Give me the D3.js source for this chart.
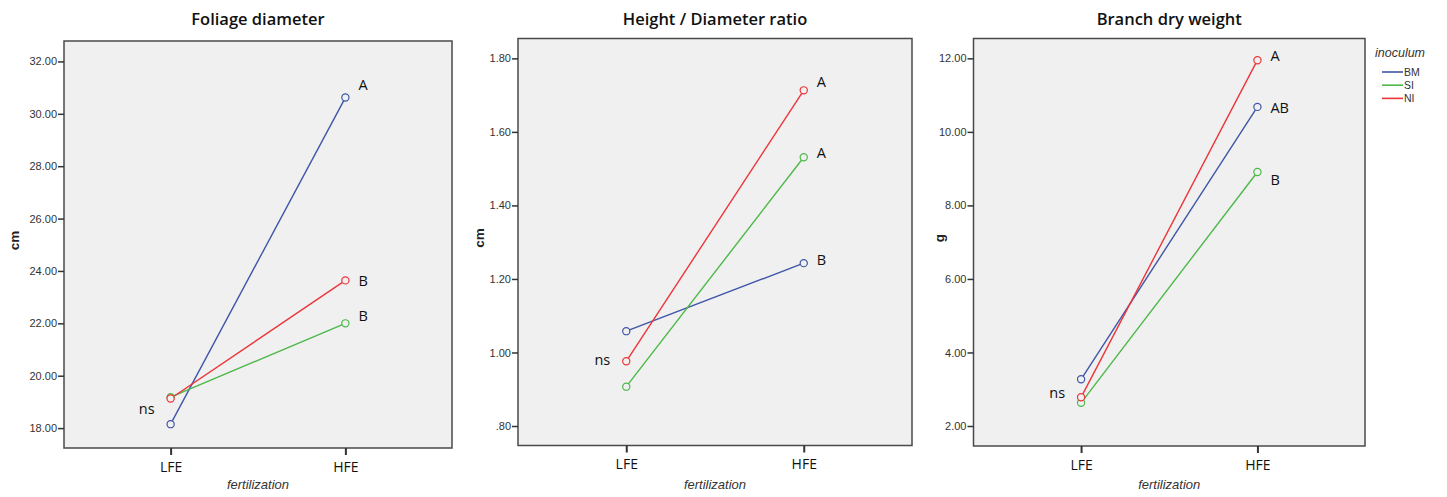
<!DOCTYPE html>
<html><head><meta charset="utf-8">
<script src="https://cdn.jsdelivr.net/npm/d3@7"></script>
<style>
body{margin:0;background:#fff;}
svg{display:block;}
</style></head>
<body>
<svg id="chart" width="1447" height="497"></svg>
<script>
// ---- data ----
const categories = ["LFE", "HFE"];
const seriesNames = ["BM", "SI", "NI"];
const seriesColors = ["#3f55a8", "#4cb849", "#ec3539"];

const foliageBM = [18.15, 30.62];
const foliageSI = [19.18, 22.00];
const foliageNI = [19.13, 23.64];
const foliageTicks = [18, 20, 22, 24, 26, 28, 30, 32];
const foliageLetters = [{t: "A", v: 31.09}, {t: "B", v: 23.64}, {t: "B", v: 22.30}];
const foliageNs = 18.72;

const hdBM = [1.058, 1.243];
const hdSI = [0.907, 1.531];
const hdNI = [0.976, 1.713];
const hdTicks = [0.8, 1.0, 1.2, 1.4, 1.6, 1.8];
const hdLetters = [{t: "A", v: 1.735}, {t: "A", v: 1.542}, {t: "B", v: 1.252}];
const hdNs = 0.979;

const branchBM = [3.27, 10.68];
const branchSI = [2.63, 8.91];
const branchNI = [2.78, 11.95];
const branchTicks = [2, 4, 6, 8, 10, 12];
const branchLetters = [{t: "A", v: 12.06}, {t: "AB", v: 10.65}, {t: "B", v: 8.69}];
const branchNs = 2.90;

const panels = [
  {title: "Foliage diameter", ylab: "cm", series: [foliageBM, foliageSI, foliageNI], ticks: foliageTicks,
   domain: [17.24, 32.78], letters: foliageLetters, ns: foliageNs,
   box: {x: 64, y: 41, w: 388, h: 407}, ylabX: 15},
  {title: "Height / Diameter ratio", ylab: "cm", series: [hdBM, hdSI, hdNI], ticks: hdTicks,
   domain: [0.747, 1.854], letters: hdLetters, ns: hdNs,
   box: {x: 518, y: 38.5, w: 394, h: 407}, ylabX: 480},
  {title: "Branch dry weight", ylab: "g", series: [branchBM, branchSI, branchNI], ticks: branchTicks,
   domain: [1.456, 12.54], letters: branchLetters, ns: branchNs,
   box: {x: 973.5, y: 38.5, w: 391.5, h: 407.5}, ylabX: 940}
];

const fmt = v => d3.format(".2f")(v).replace(/^0\./, ".");

const svg = d3.select("#chart");

panels.forEach(p => {
  const b = p.box;
  const g = svg.append("g");
  const x = d3.scalePoint().domain(categories).range([b.x, b.x + b.w]).padding(0.61);
  const y = d3.scaleLinear().domain(p.domain).range([b.y + b.h, b.y]);

  g.append("rect").attr("x", b.x).attr("y", b.y).attr("width", b.w).attr("height", b.h)
    .attr("fill", "#f0f0f0").attr("stroke", "#4a4a4a").attr("stroke-width", 1.5);

  // title
  g.append("text").attr("x", b.x + b.w / 2).attr("y", 25).attr("text-anchor", "middle")
    .attr("font-family", "Open Sans").attr("font-weight", 600).attr("font-size", 16.5).attr("fill", "#111")
    .text(p.title);

  // y axis
  const yAxis = d3.axisLeft(y).tickValues(p.ticks).tickFormat(fmt).tickSize(6).tickPadding(1);
  const ya = g.append("g").attr("transform", `translate(${b.x},0)`).call(yAxis);
  ya.select(".domain").remove();
  ya.selectAll(".tick line").attr("stroke", "#333").attr("stroke-width", 1.5);
  ya.selectAll(".tick text").attr("font-family", "Liberation Sans, Arial").attr("font-size", 11).attr("fill", "#333");

  // x axis
  const xAxis = d3.axisBottom(x).tickSize(7).tickPadding(7);
  const xa = g.append("g").attr("transform", `translate(0,${b.y + b.h})`).call(xAxis);
  xa.select(".domain").remove();
  xa.selectAll(".tick line").attr("stroke", "#333").attr("stroke-width", 2);
  xa.selectAll(".tick text").attr("font-family", "Open Sans").attr("font-size", 14).attr("fill", "#111");

  g.append("text").attr("x", b.x + b.w / 2).attr("y", 489).attr("text-anchor", "middle")
    .attr("font-family", "Liberation Sans, Arial").attr("font-style", "italic").attr("font-size", 13).attr("fill", "#333")
    .text("fertilization");

  g.append("text").attr("transform", `translate(${p.ylabX + 4},${b.y + b.h * 0.49}) rotate(-90)`)
    .attr("text-anchor", "middle").attr("font-family", "Liberation Sans, Arial").attr("font-weight", "bold")
    .attr("font-size", 13.5).attr("fill", "#222").text(p.ylab);

  // lines and points
  p.series.forEach((vals, i) => {
    const pts = categories.map((c, j) => [x(c), y(vals[j])]);
    g.append("path").attr("d", d3.line()(pts)).attr("fill", "none")
      .attr("stroke", seriesColors[i]).attr("stroke-width", 1.4);
  });
  p.series.forEach((vals, i) => {
    categories.forEach((c, j) => {
      g.append("circle").attr("cx", x(c)).attr("cy", y(vals[j])).attr("r", 3.6)
        .attr("fill", "#f0f0f0").attr("stroke", seriesColors[i]).attr("stroke-width", 1.2);
    });
  });

  // letters
  p.letters.forEach(l => {
    g.append("text").attr("x", x("HFE") + 13).attr("y", y(l.v)).attr("dy", "0.36em")
      .attr("font-family", "Open Sans").attr("font-weight", 500).attr("font-size", 14.5).attr("fill", "#111").text(l.t);
  });
  g.append("text").attr("x", x("LFE") - 16).attr("y", y(p.ns)).attr("dy", "0.36em").attr("text-anchor", "end")
    .attr("font-family", "Open Sans").attr("font-weight", 500).attr("font-size", 14.5).attr("fill", "#111").text("ns");
});

// legend
const lg = svg.append("g");
lg.append("text").attr("x", 1375).attr("y", 57).attr("font-family", "Liberation Sans, Arial")
  .attr("font-style", "italic").attr("font-size", 12.5).attr("fill", "#333").text("inoculum");
seriesNames.forEach((s, i) => {
  const yy = 72 + i * 13.2;
  lg.append("line").attr("x1", 1382).attr("x2", 1403).attr("y1", yy).attr("y2", yy)
    .attr("stroke", seriesColors[i]).attr("stroke-width", 1.6);
  lg.append("text").attr("x", 1404).attr("y", yy).attr("dy", "0.35em")
    .attr("font-family", "Liberation Sans, Arial").attr("font-size", 10.5).attr("fill", "#333").text(s);
});
</script>
</body></html>
